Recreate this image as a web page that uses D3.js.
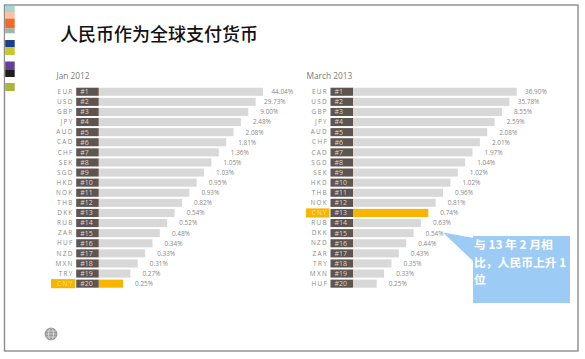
<!DOCTYPE html>
<html><head><meta charset="utf-8">
<script src="https://cdn.jsdelivr.net/npm/d3@7"></script>
<style>html,body{margin:0;padding:0;background:#fff;}svg{display:block;}</style>
</head><body>
<script>
// ---- data ----
const title = "人民币作为全球支付货币";
const leftTitle = "Jan 2012";
const rightTitle = "March 2013";
const leftCurrencies = ["EUR","USD","GBP","JPY","AUD","CAD","CHF","SEK","SGD","HKD","NOK","THB","DKK","RUB","ZAR","HUF","NZD","MXN","TRY","CNY"];
const leftValues = [44.04,29.73,9.00,2.48,2.08,1.81,1.36,1.05,1.03,0.95,0.93,0.82,0.54,0.52,0.48,0.34,0.33,0.31,0.27,0.25];
const rightCurrencies = ["EUR","USD","GBP","JPY","AUD","CHF","CAD","SGD","SEK","HKD","THB","NOK","CNY","RUB","DKK","NZD","ZAR","TRY","MXN","HUF"];
const rightValues = [36.90,35.78,8.55,2.59,2.08,2.01,1.97,1.04,1.02,1.02,0.96,0.81,0.74,0.63,0.54,0.44,0.43,0.35,0.33,0.25];
const ranks = d3.range(1, 21);
const highlight = "CNY";
const calloutLines = ["与 13 年 2 月相", "比，人民币上升 1", "位"];

// ---- drawing ----
const W = 585, H = 359;
const svg = d3.select("body").append("svg").attr("width", W).attr("height", H);

// slide frame
svg.append("rect").attr("x", 4.5).attr("y", 5).attr("width", 573.5).attr("height", 346)
  .attr("fill", "#fff").attr("stroke", "#8c8c8c").attr("stroke-width", 1.4);

// decorative left stripe
const stripe = [
  ["#a6d8d0",6,12],["#f8c2a2",12,18.5],["#f26a28",18.5,28.5],["#98b6b3",28.5,33.5],
  ["#ffffff",33.5,40],["#1a3f8e",40,47],["#c9c630",47,55],["#ffffff",55,61.5],
  ["#663f99",61.5,70],["#1f1f1f",70,77],["#ffffff",77,83],["#a9b63a",83,91]
];
svg.selectAll("rect.stripe").data(stripe).join("rect").attr("class","stripe")
  .attr("x", 5.2).attr("width", 9.5).attr("y", d => d[1]).attr("height", d => d[2]-d[1])
  .attr("fill", d => d[0]);

// title
svg.append("text").attr("x", 60).attr("y", 41).text(title)
  .attr("font-family", "'Noto Sans CJK SC', sans-serif").attr("font-size", 18)
  .attr("font-weight", 500).attr("fill", "#111");

const y = d3.scaleBand().domain(ranks).range([86.7, 288.7]).paddingInner(0.2).paddingOuter(0.1);

function panel(cfg) {
  const g = svg.append("g");
  const xEnd = d3.scaleLinear().domain([1, 20]).range([cfg.end1, cfg.end20]);
  const rows = ranks.map((r, i) => ({rank: r, cur: cfg.cur[i], val: cfg.vals[i]}));

  g.append("text").attr("x", cfg.titleX).attr("y", 78.5).text(cfg.title)
    .attr("font-family", "'Open Sans', sans-serif").attr("font-size", 8.3).attr("fill", "#7a7a7a");

  // highlight behind label
  g.selectAll("rect.hl").data(rows.filter(d => d.cur === highlight)).join("rect")
    .attr("x", cfg.hlX).attr("width", cfg.boxX - 1 - cfg.hlX)
    .attr("y", d => y(d.rank) - 0.5).attr("height", y.bandwidth() + 1).attr("fill", "#f7b500");

  // bars
  g.selectAll("rect.bar").data(rows).join("rect")
    .attr("x", cfg.boxX + 22.5).attr("y", d => y(d.rank)).attr("height", y.bandwidth())
    .attr("width", d => xEnd(d.rank) - (cfg.boxX + 22.5))
    .attr("fill", d => d.cur === highlight ? "#f7b500" : "#d8d8d8");

  // rank boxes
  g.selectAll("rect.box").data(rows).join("rect")
    .attr("x", cfg.boxX).attr("y", d => y(d.rank)).attr("height", y.bandwidth()).attr("width", 22.5)
    .attr("fill", "#5f5550");
  g.selectAll("text.rank").data(rows).join("text")
    .attr("x", cfg.boxX + 4).attr("y", d => y(d.rank) + y.bandwidth()/2 + 2.4)
    .text(d => "#" + d.rank)
    .attr("font-family", "'Open Sans', sans-serif").attr("font-size", 7).attr("fill", "#d9d4d0");

  // currency labels
  g.selectAll("text.cur").data(rows).join("text")
    .attr("x", cfg.labelX).attr("y", d => y(d.rank) + y.bandwidth()/2 + 2.2)
    .attr("text-anchor", "end").attr("letter-spacing", 1.3)
    .text(d => d.cur)
    .attr("font-family", "'Open Sans', sans-serif").attr("font-size", 6.4)
    .attr("fill", d => d.cur === highlight ? "#fde7a6" : "#8a8a8a");

  // value labels
  g.selectAll("text.val").data(rows).join("text")
    .attr("x", d => xEnd(d.rank) + 30).attr("y", d => y(d.rank) + y.bandwidth()/2 + 2.4)
    .attr("text-anchor", "end")
    .text(d => d.val.toFixed(2) + "%")
    .attr("font-family", "'Open Sans', sans-serif").attr("font-size", 6.4).attr("fill", "#8a8a8a");
}

panel({title: leftTitle, titleX: 56.5, cur: leftCurrencies, vals: leftValues,
  boxX: 76.2, end1: 263, end20: 123, labelX: 73.6, hlX: 51});
panel({title: rightTitle, titleX: 306.5, cur: rightCurrencies, vals: rightValues,
  boxX: 330.5, end1: 516.7, end20: 376.7, labelX: 328, hlX: 306});

// callout
const call = svg.append("g");
call.append("path").attr("d", "M443,232.5 L474,238 L474,262 Z").attr("fill", "#9ccbf6");
call.append("rect").attr("x", 473).attr("y", 236).attr("width", 97).attr("height", 67).attr("fill", "#9ccbf6");
call.selectAll("text").data(calloutLines).join("text")
  .attr("x", 474).attr("y", (d, i) => 249 + i * 17.6).text(d => d)
  .attr("font-family", "'Noto Sans CJK SC', sans-serif").attr("font-size", 11.8)
  .attr("font-weight", 700).attr("fill", "#fff");

// globe logo
const logo = svg.append("g").attr("transform", "translate(51,334)");
logo.append("circle").attr("r", 6).attr("fill", "#9a9a9a");
[-3, 0, 3].forEach(v => logo.append("line").attr("x1", -5.5).attr("x2", 5.5).attr("y1", v).attr("y2", v)
  .attr("stroke", "#e6e6e6").attr("stroke-width", 0.7));
logo.append("ellipse").attr("rx", 2.5).attr("ry", 6).attr("fill", "none").attr("stroke", "#e6e6e6").attr("stroke-width", 0.7);
logo.append("circle").attr("r", 6).attr("fill", "none").attr("stroke", "#777").attr("stroke-width", 0.6);
</script>
</body></html>
